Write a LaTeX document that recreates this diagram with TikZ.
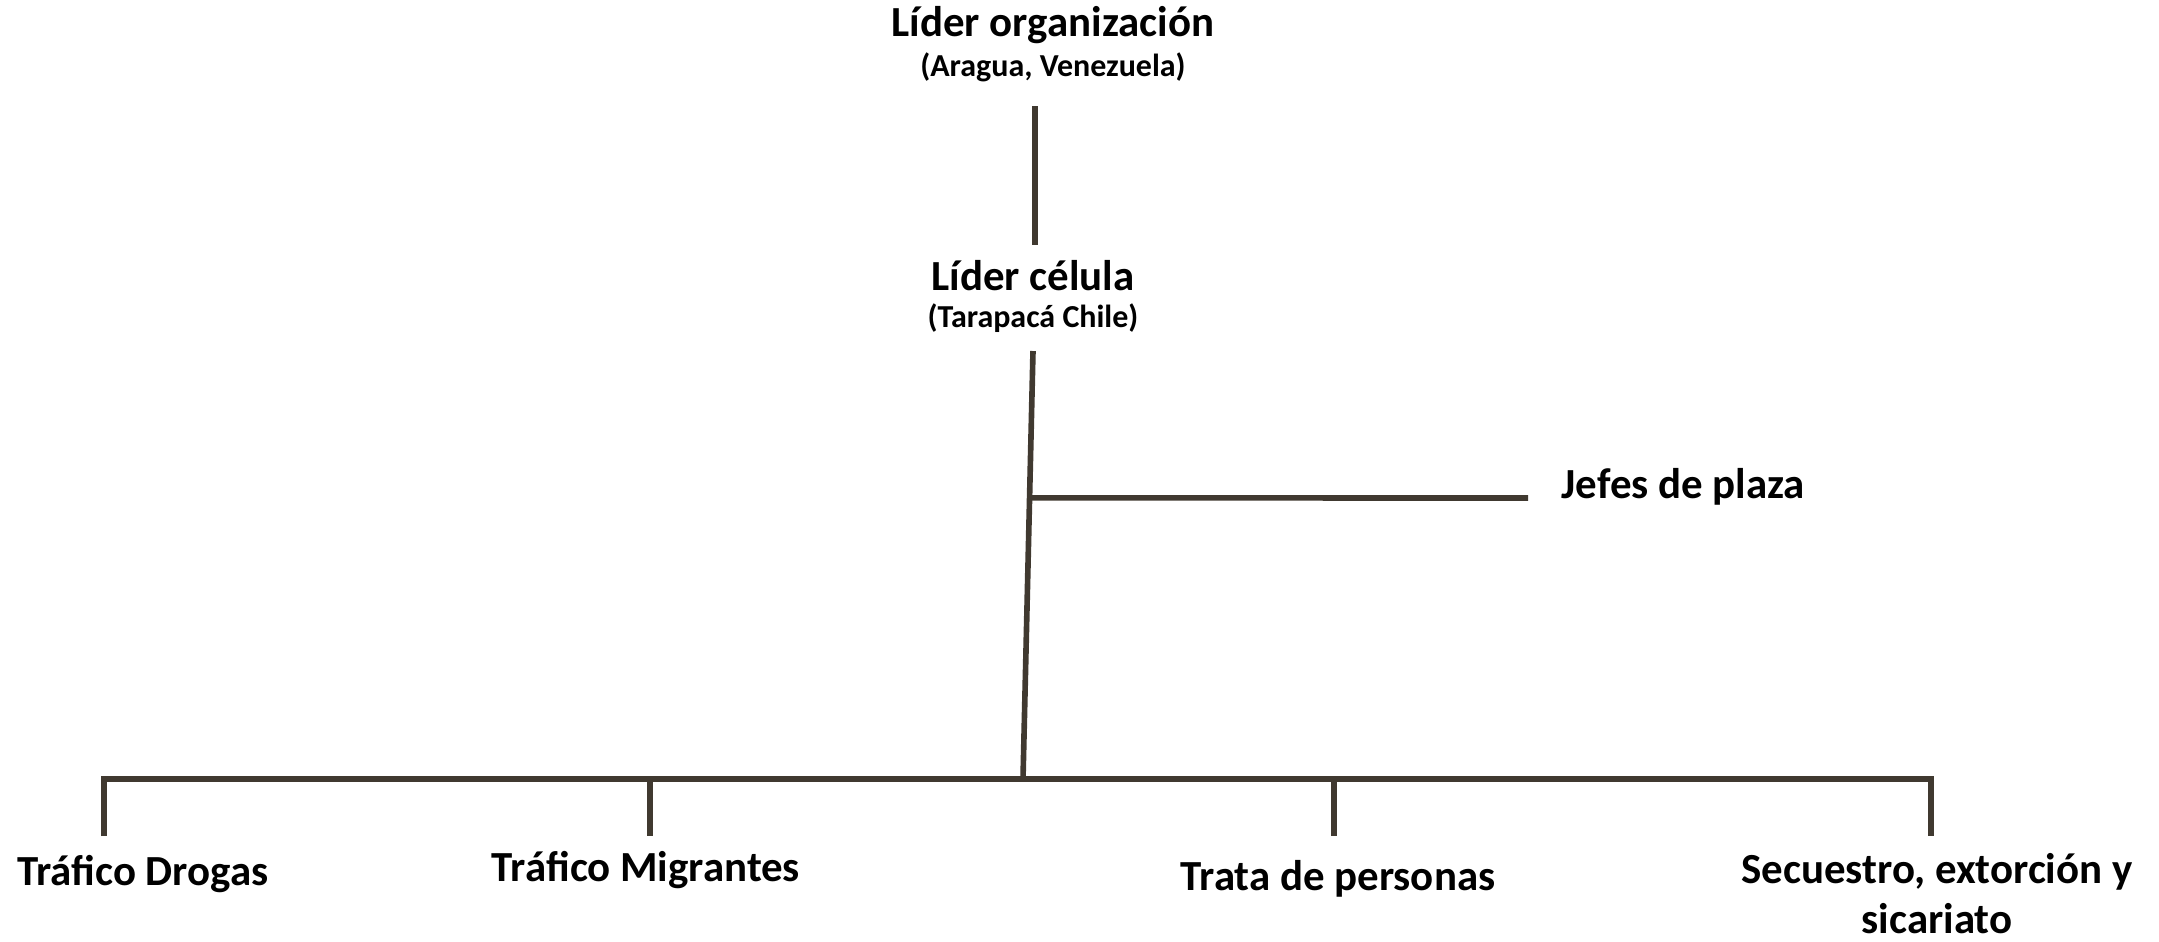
\documentclass[tikz,border=0pt]{standalone}
\usepackage{fontspec}
\setmainfont{Carlito}
\usetikzlibrary{calc}
\definecolor{linegray}{RGB}{64,57,48}
\begin{document}
\begin{tikzpicture}[x=0.01cm,y=-0.01cm,
    title/.style={font=\bfseries\fontsize{12.2}{14}\selectfont, inner sep=0pt, anchor=base},
    place/.style={font=\bfseries\fontsize{9.1}{11}\selectfont, inner sep=0pt, anchor=base},
    link/.style={line width=1.6pt, draw=linegray}]
\useasboundingbox (0,0) rectangle (2159,941);
% leaders
\node[title] (org) at (1053,36) {Líder organización};
\node[place] (orgplace) at (1053,76) {(Aragua, Venezuela)};
\node[title] (cell) at (1033,290) {Líder célula};
\node[place] (cellplace) at (1033,327) {(Tarapacá Chile)};
\node[title, anchor=base west] (jefes) at (1561,498) {Jefes de plaza};
% areas
\node[title] (drogas) at (143,885) {Tráfico Drogas};
\node[title] (migrantes) at (646,881) {Tráfico Migrantes};
\node[title] (trata) at (1338,890) {Trata de personas};
\node[title, align=center] (secuestro) at (1937,933) {Secuestro, extorción y\\sicariato};
% lines
\coordinate (up) at (1035,106);
\coordinate (down) at (1035,245);
\draw[link] (up) -- (down);
\coordinate (stem) at (1033,351);
\coordinate (hub) at (1023,779);
\draw[link] (stem) -- (hub);
\coordinate (jefes-end) at (1528,498);
\draw[link] ($(stem)!0.343!(hub)$) -- (jefes-end);
\foreach \name/\x in {drogas/104, migrantes/650, trata/1334, secuestro/1931}{
    \coordinate (\name-top) at (\x,779);
    \coordinate (\name-tip) at (\x,836);
}
\draw[link] (drogas-tip) -- (drogas-top) -- (secuestro-top) -- (secuestro-tip);
\draw[link] (migrantes-top) -- (migrantes-tip);
\draw[link] (trata-top) -- (trata-tip);
\end{tikzpicture}
\end{document}
